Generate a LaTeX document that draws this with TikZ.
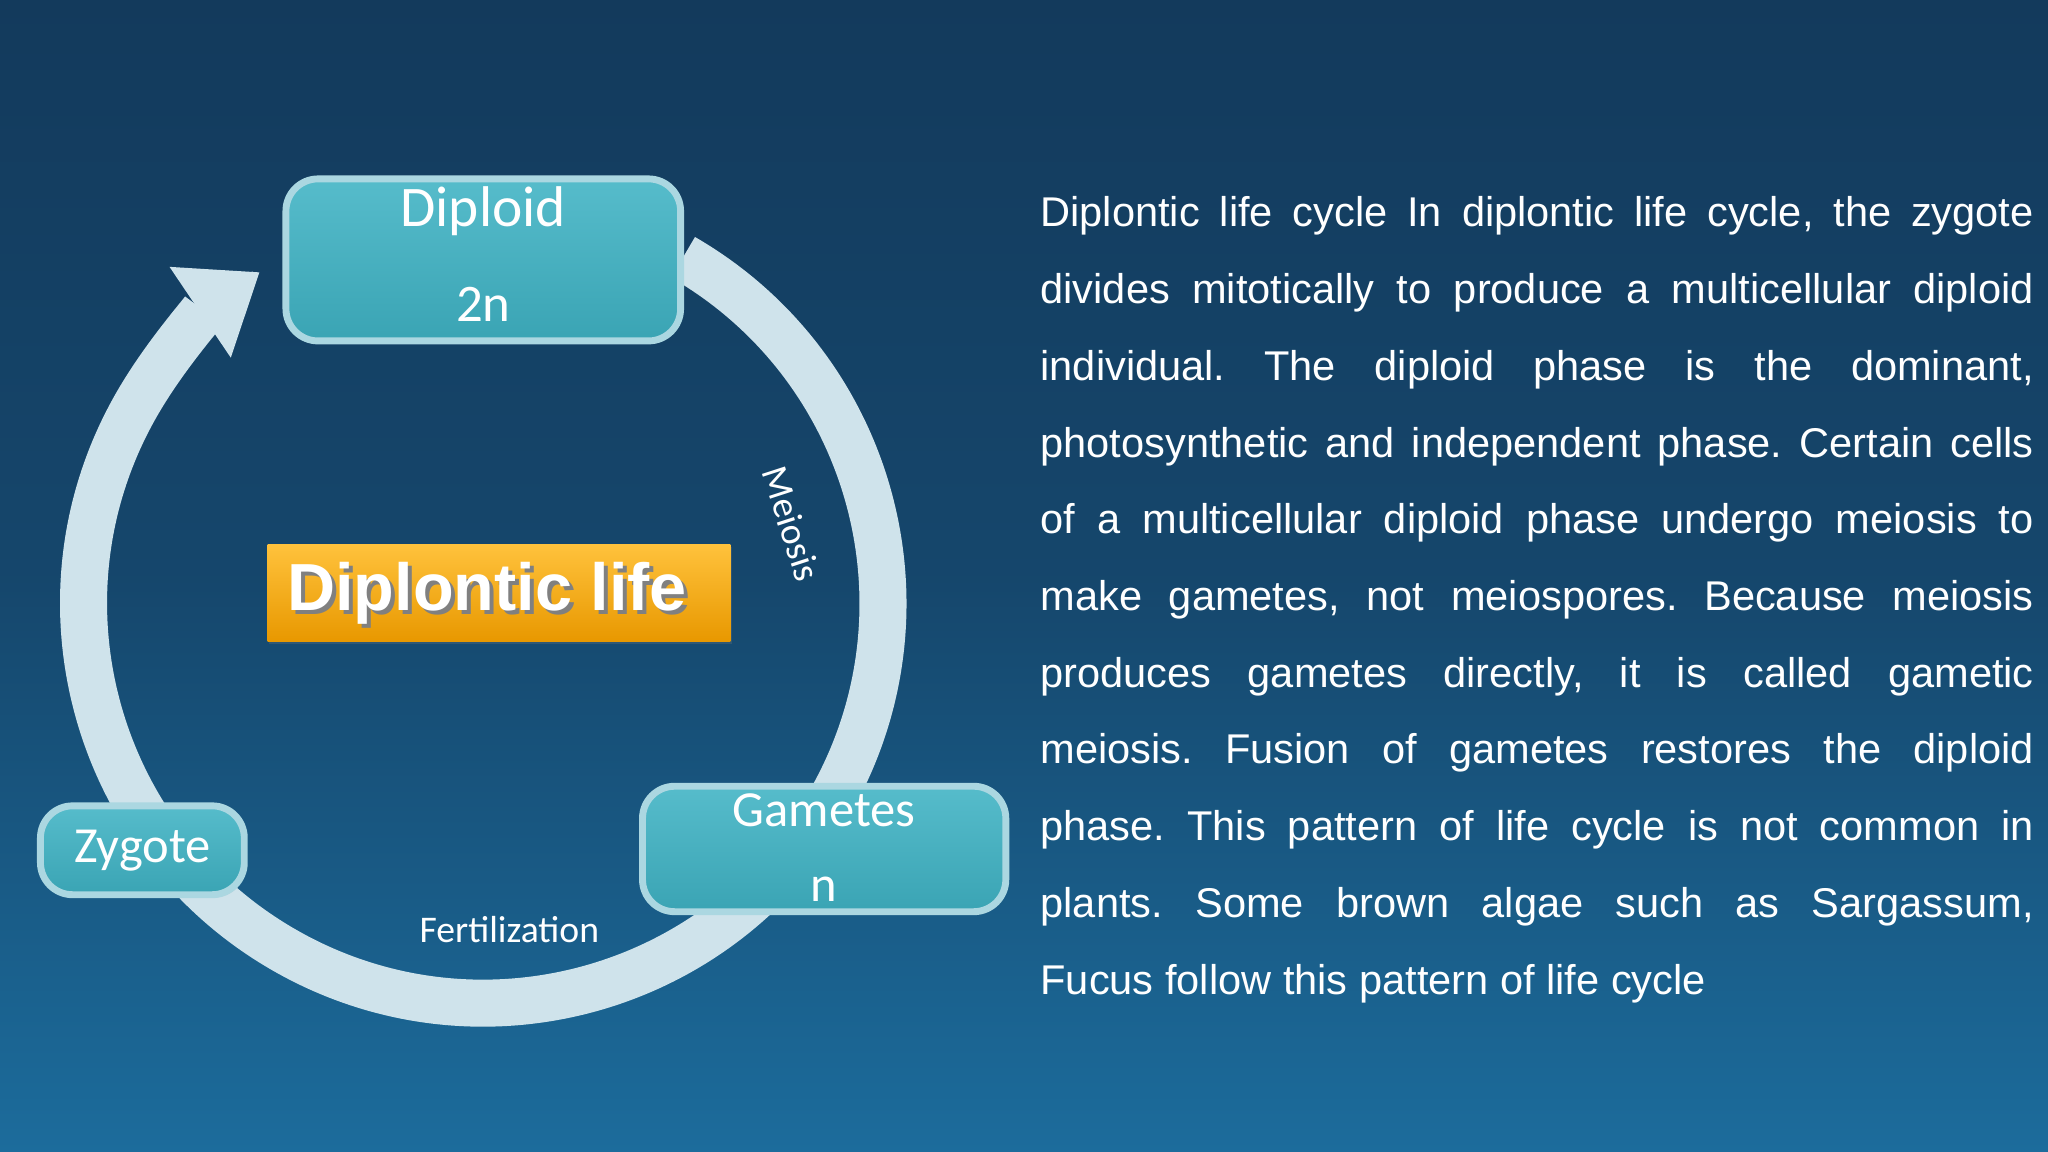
\documentclass[tikz,border=0pt]{standalone}
\usepackage{fontspec}
\setmainfont{Carlito}
\newfontfamily\arialf{Liberation Sans}
\usetikzlibrary{arrows.meta,shadows}
\definecolor{bgtop}{HTML}{133A5C}
\definecolor{bgbot}{HTML}{1C6C9C}
\definecolor{ring}{HTML}{CFE3EB}
\definecolor{tealA}{HTML}{56BCCB}
\definecolor{tealB}{HTML}{3AA4B4}
\definecolor{orA}{HTML}{FFC23C}
\definecolor{orB}{HTML}{E89800}
\tikzset{
  tealbox/.style={draw=ring!70!tealA,line width=1.5pt,rounded corners=7pt,top color=tealA,bottom color=tealB,text=white,align=center,drop shadow={opacity=0.25,shadow xshift=0.4pt,shadow yshift=-0.6pt}},
  lbl/.style={text=white,font=\fontsize{8.2}{9}\selectfont},
}
\begin{document}
\begin{tikzpicture}[x=0.01cm,y=-0.01cm]
\useasboundingbox (0,0) rectangle (1568,882);
\shade[top color=bgtop,bottom color=bgbot,middle color=bgtop!75!bgbot] (0,0) rectangle (1568,882);
\coordinate (c) at (370,462);
\begin{scope}[y=0.01cm]
\draw[ring,line width=0.36cm,-{Triangle[width=0.8cm,length=0.55cm]}] ([shift={(60:306)}]c) arc[start angle=60,end angle=-236,radius=306];
\end{scope}
\node[tealbox,minimum width=3.02cm,minimum height=1.24cm] (dip) at (370,199) {};
\node[text=white,font=\fontsize{12.5}{12}\selectfont] (dipt) at (370,162) {Diploid};
\node[text=white,font=\fontsize{11.5}{11}\selectfont] (dipn) at (370,233) {2n};
\node[tealbox,minimum width=1.56cm,minimum height=0.68cm,font=\fontsize{11}{11}\selectfont] (zyg) at (109,651) {Zygote};
\node[tealbox,minimum width=2.78cm,minimum height=0.96cm] (gam) at (631,650) {};
\node[text=white,font=\fontsize{11}{11}\selectfont] (gamt) at (631,620) {Gametes};
\node[text=white,font=\fontsize{11}{11}\selectfont] (gamn) at (631,681) {n};
\node[top color=orA,bottom color=orB,minimum width=3.54cm,minimum height=0.74cm,drop shadow={opacity=0.25,shadow xshift=0.4pt,shadow yshift=-0.6pt}] (dl) at (382,454) {};
\node[text=black!50,font=\arialf\bfseries\fontsize{14.5}{15}\selectfont] at (376,457) {Diplontic life};
\node[text=white,font=\arialf\bfseries\fontsize{14.5}{15}\selectfont] (dlt) at (373,454) {Diplontic life};
\node[lbl,rotate=-72] (mei) at (606,401) {Meiosis};
\node[lbl] (fer) at (390,712) {Fertilization};
\node[anchor=north west,inner sep=0pt,text=white,text width=7.6cm,font=\arialf\fontsize{9.05}{16.7}\selectfont\frenchspacing,align=justify] (para) at (796,150) {%
Diplontic life cycle In diplontic life cycle, the zygote\linebreak
divides mitotically to produce a multicellular diploid\linebreak
individual. The diploid phase is the dominant,\linebreak
photosynthetic and independent phase. Certain cells\linebreak
of a multicellular diploid phase undergo meiosis to\linebreak
make gametes, not meiospores. Because meiosis\linebreak
produces gametes directly, it is called gametic\linebreak
meiosis. Fusion of gametes restores the diploid\linebreak
phase. This pattern of life cycle is not common in\linebreak
plants. Some brown algae such as Sargassum,\linebreak
Fucus follow this pattern of life cycle};
\end{tikzpicture}
\end{document}
